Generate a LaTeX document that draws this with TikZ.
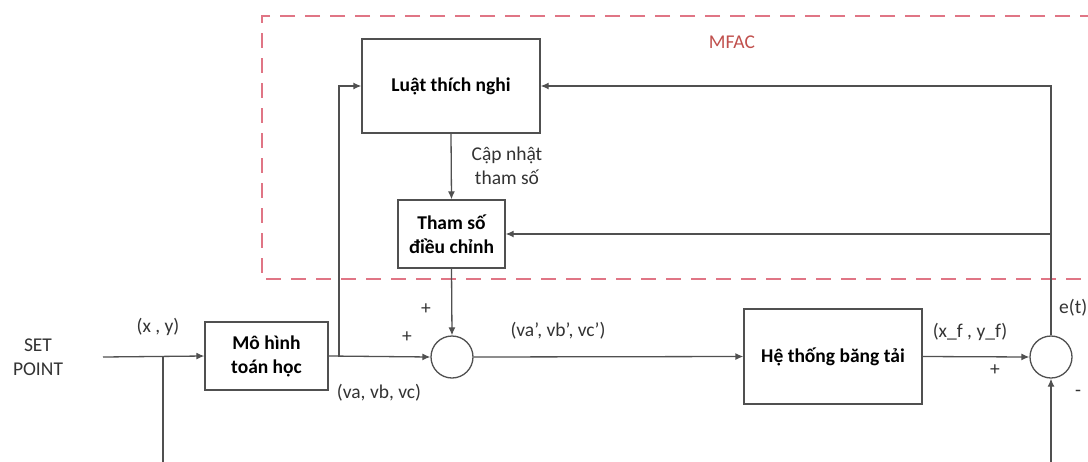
\documentclass[tikz,border=0pt]{standalone}
\usepackage{fontspec}
\setmainfont{Carlito}
\usetikzlibrary{arrows.meta}
\definecolor{linec}{HTML}{505050}
\definecolor{dashred}{HTML}{E07585}
\definecolor{mfacred}{HTML}{C0504D}
\begin{document}
\begin{tikzpicture}[x=1pt,y=-1pt,
  conn/.style={draw=linec,line width=1.3pt},
  arr/.style={conn,-{Latex[length=8pt,width=7pt]}},
  blk/.style={draw=linec,line width=1.3pt,rectangle,inner sep=0pt,align=center,font=\fontsize{19.5}{24}\selectfont\bfseries},
  sumc/.style={draw=linec,line width=1.3pt,circle,minimum size=42pt,inner sep=0pt},
  lbl/.style={font=\fontsize{19.5}{24}\selectfont,text=black!80,inner sep=0pt,align=center}]
\useasboundingbox (0,0) rectangle (1088,461);
\clip (0,0) rectangle (1088,461);
% MFAC dashed region
\draw[dashred,line width=1.3pt,dash pattern=on 15pt off 10pt] (1120,16) -- (262,16) -- (262,279) -- (1120,279);
\node[lbl,text=mfacred] (mfac) at (732,42) {MFAC};
% blocks
\node[blk,minimum width=123pt,minimum height=68pt] (mh) at (266.5,356) {Mô hình\\toán học};
\node[blk,minimum width=178pt,minimum height=95pt] (ht) at (833,356.5) {Hệ thống băng tải};
\node[blk,minimum width=178pt,minimum height=94pt] (lt) at (451,86) {Luật thích nghi};
\node[blk,minimum width=107pt,minimum height=68pt] (ts) at (451.5,234) {Tham số\\điều chỉnh};
\node[sumc] (c1) at (452,357) {};
\node[sumc] (c2) at (1051,357) {};
% coordinates
\coordinate (sp) at (103,357);
\coordinate (b1) at (163,357);
\coordinate (b1d) at (163,490);
\coordinate (c2d) at (1051,490);
\coordinate (b2) at (339,357);
\coordinate (b2u) at (339,86);
\coordinate (fbt) at (1051,86);
\coordinate (fbm) at (1051,234);
% connectors
\draw[arr] (sp) -- (mh.west);
\draw[arr] (mh.east) -- (c1.west);
\draw[arr] (b2) -- (b2u) -- (lt.west);
\draw[arr] (lt.south) -- (ts.north);
\draw[arr] (ts.south) -- (c1.north);
\draw[arr] (c1.east) -- (ht.west);
\draw[arr] (ht.east) -- (c2.west);
\draw[arr] (c2.north) -- (fbt) -- (lt.east);
\draw[arr] (fbm) -- (ts.east);
\draw[arr] (b1) -- (b1d) -- (c2d) -- (c2.south);
% labels
\node[lbl] (setp) at (38,357) {SET\\POINT};
\node[lbl] (xy) at (158,327) {(x , y)};
\node[lbl] (vabc) at (379,393) {(va, vb, vc)};
\node[lbl] (p1) at (426,309) {+};
\node[lbl] (p2) at (407,337) {+};
\node[lbl] (vabcp) at (558,331) {(va', vb', vc')};
\node[lbl] (xfyf) at (970,332) {(x\_f , y\_f)};
\node[lbl] (p3) at (995,370) {+};
\node[lbl,anchor=west] (et) at (1059,308) {e(t)};
\node[lbl] (m1) at (1078,393) {-};
\node[lbl] (cap) at (507,166) {Cập nhật\\tham số};
\end{tikzpicture}
\end{document}
